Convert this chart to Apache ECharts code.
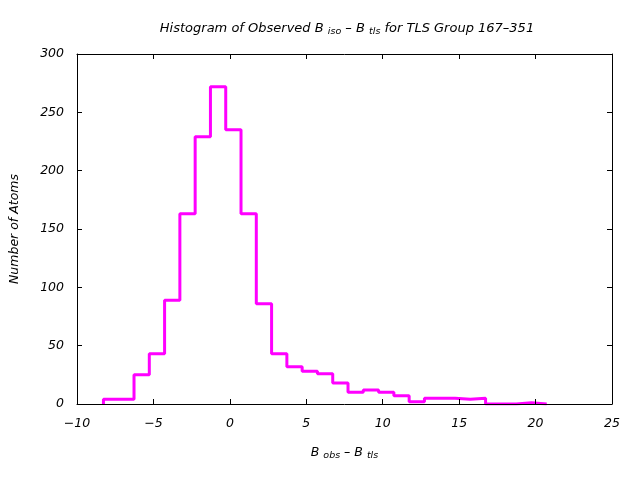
<!DOCTYPE html>
<html>
<head>
<meta charset="utf-8">
<script src="https://cdn.jsdelivr.net/npm/echarts@6/dist/echarts.min.js"></script>
<style>html,body{margin:0;padding:0;background:#fff}#c{width:640px;height:480px}</style>
</head>
<body>
<div id="c"></div>
<script>
// Bin left edges (last entry is the right edge of the final bin)
const binEdges = [-8.27, -7.27, -6.27, -5.27, -4.27, -3.27, -2.27, -1.27, -0.27, 0.73,
  1.73, 2.73, 3.73, 4.73, 5.73, 6.73, 7.73, 8.73, 9.73, 10.73,
  11.73, 12.73, 13.73, 14.73, 15.73, 16.73, 17.73, 18.73, 19.73, 20.73];
// Counts per bin
const counts = [4, 4, 25, 43, 89, 163, 229, 272, 235, 163,
  86, 43, 32, 28, 26, 18, 10, 12, 10, 7,
  2, 5, 5, 4, 5, 0, 0, 1, 0];
const xTicks = [-10, -5, 0, 5, 10, 15, 20, 25];
const yTicks = [0, 50, 100, 150, 200, 250, 300];

const stepData = [[binEdges[0], 0]];
for (let i = 0; i < counts.length; i++) stepData.push([binEdges[i], counts[i]]);
stepData.push([binEdges[binEdges.length - 1], 0]);

const FONT = 'DejaVu Sans';
const txt = {fontFamily: FONT, fontStyle: 'italic', fontWeight: 'normal', fontSize: 12.5, color: '#000'};
const ttl = Object.assign({}, txt, {fontSize: 13});
const sub = {fontFamily: FONT, fontStyle: 'italic', fontWeight: 'normal', fontSize: 9.5, color: '#000', padding: [7, 0, 0, 0]};

const chart = echarts.init(document.getElementById('c'));
const axisCommon = {
  axisLine: {show: true, onZero: false, lineStyle: {color: '#000', width: 1}},
  axisTick: {show: true, inside: true, length: 5, lineStyle: {color: '#000'}},
  splitLine: {show: false}
};
const minus = v => String(v).replace('-', '\u2212');
chart.setOption({
  animation: false,
  backgroundColor: '#fff',
  title: {
    text: '{t|Histogram of Observed B }{s|iso}{t| \u2013 B }{s|tls}{t| for TLS Group 167\u2013351}',
    left: 342, top: 15, textAlign: 'center',
    textStyle: {fontWeight: 'normal', rich: {t: ttl, s: sub}}
  },
  grid: {left: 75, right: 28, top: 54, bottom: 76},
  xAxis: [
    Object.assign({}, axisCommon, {
      type: 'value', min: xTicks[0], max: xTicks[xTicks.length - 1], interval: 5,
      position: 'bottom', z: 5,
      axisLabel: Object.assign({}, txt, {margin: 13, formatter: minus}),
      name: '{t|B }{s|obs}{t| \u2013 B }{s|tls}',
      nameLocation: 'middle', nameGap: 40,
      nameTextStyle: {rich: {t: txt, s: sub}}
    }),
    Object.assign({}, axisCommon, {
      type: 'value', min: xTicks[0], max: xTicks[xTicks.length - 1], interval: 5,
      position: 'top', axisLabel: {show: false}
    })
  ],
  yAxis: [
    Object.assign({}, axisCommon, {
      type: 'value', min: yTicks[0], max: yTicks[yTicks.length - 1], interval: 50,
      position: 'left',
      axisLabel: Object.assign({}, txt, {margin: 13}),
      name: 'Number of Atoms', nameLocation: 'middle', nameGap: 56,
      nameTextStyle: txt
    }),
    Object.assign({}, axisCommon, {
      type: 'value', min: yTicks[0], max: yTicks[yTicks.length - 1], interval: 50,
      position: 'right', axisLabel: {show: false}
    })
  ],
  series: [{
    type: 'line', step: 'end', data: stepData, symbol: 'none',
    xAxisIndex: 0, yAxisIndex: 0,
    lineStyle: {color: '#ff00ff', width: 3}
  }]
});
</script>
</body>
</html>
